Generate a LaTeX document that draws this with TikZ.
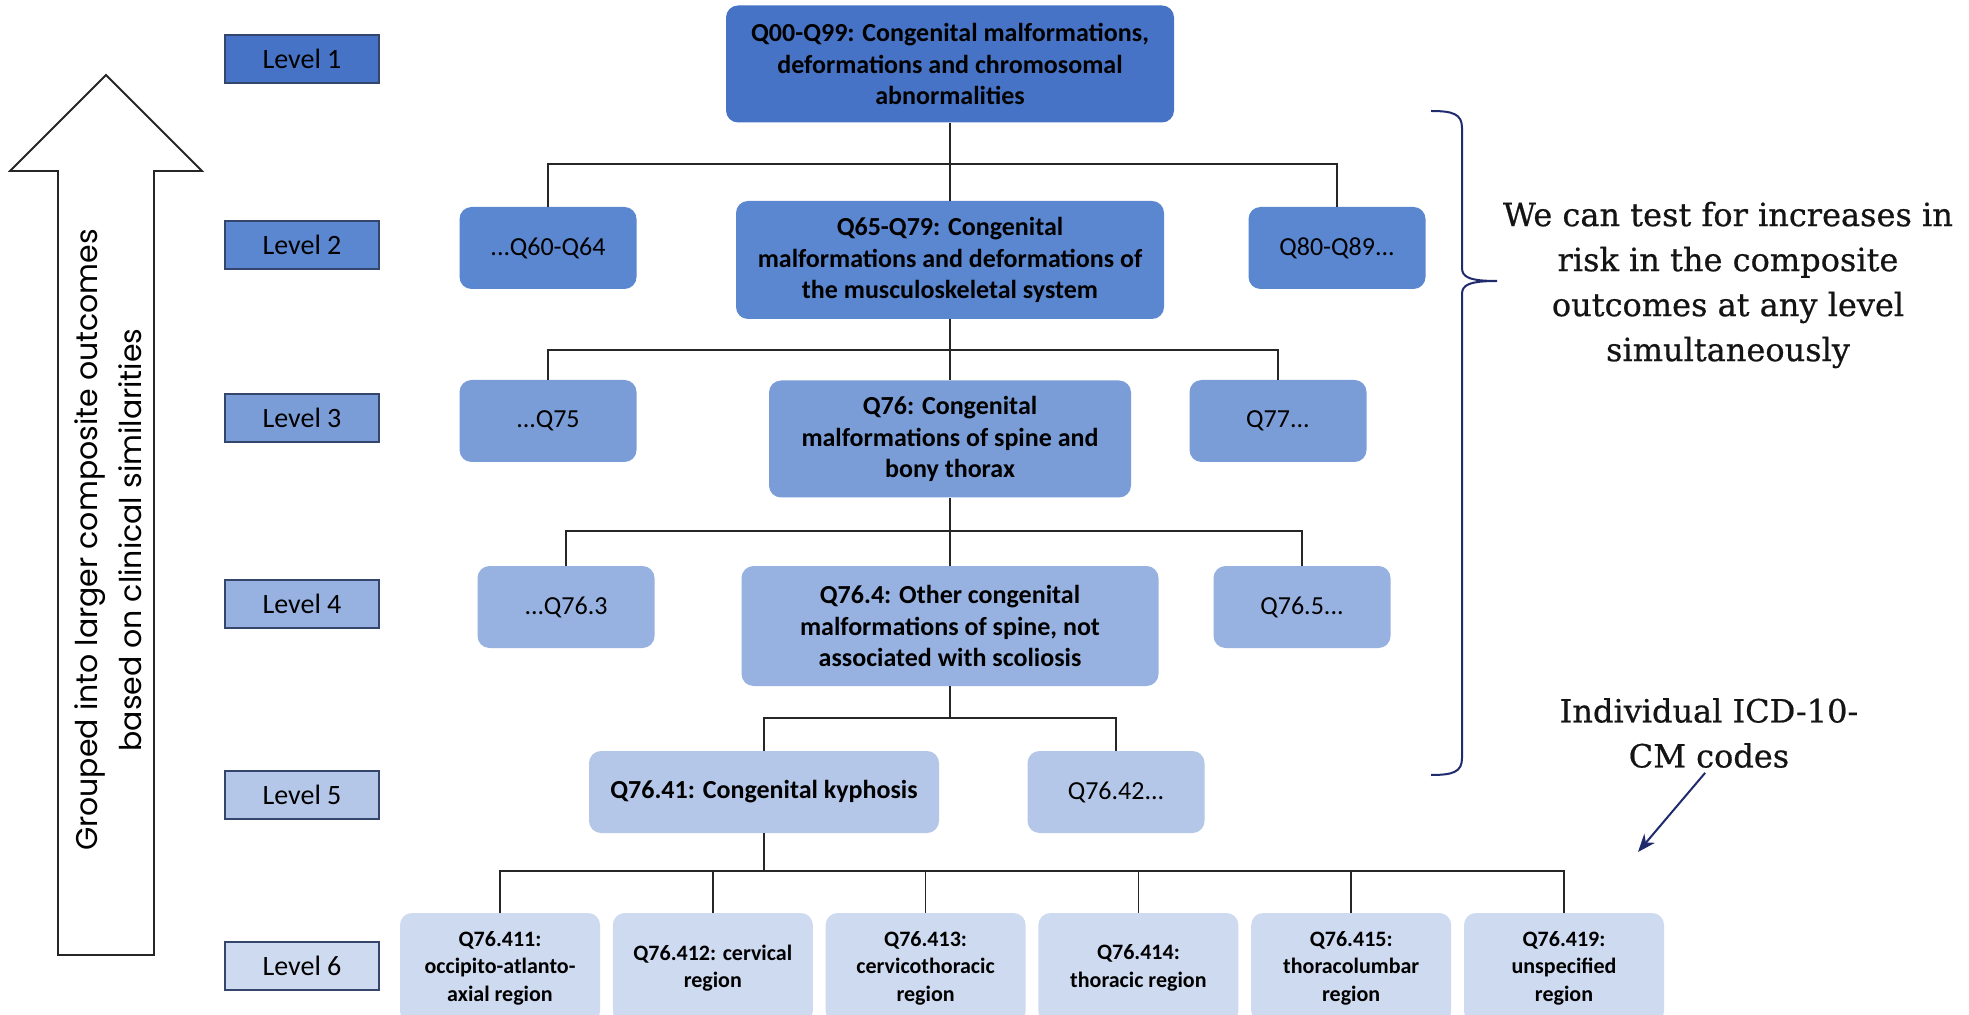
\documentclass[tikz,border=0pt]{standalone}
\usepackage{fontspec}
\setmainfont{Carlito}
\newfontfamily\notefont{DejaVu Serif}[FakeBold=0.6]
\newfontfamily\arrowfont{Poppins}
\usepackage{tikz}
\usetikzlibrary{arrows.meta}

\definecolor{lvA}{HTML}{4673C5}
\definecolor{lvB}{HTML}{5B86D0}
\definecolor{lvC}{HTML}{7A9DD8}
\definecolor{lvD}{HTML}{97B2E1}
\definecolor{lvE}{HTML}{B4C7E8}
\definecolor{lvF}{HTML}{CEDAF0}
\definecolor{levelline}{HTML}{34466B}
\definecolor{navy}{HTML}{1F2B6C}

\tikzset{
  treebox/.style={rounded corners=6pt, align=center, inner sep=3pt, font=\fontsize{13}{15.6}\selectfont},
  boldbox/.style={treebox, font=\bfseries\fontsize{13}{15.6}\selectfont},
  smallbox/.style={treebox, minimum width=88.5pt, minimum height=41pt},
  leafbox/.style={treebox, font=\bfseries\fontsize{11}{13.8}\selectfont, minimum width=100pt, minimum height=55pt},
  levelbox/.style={draw=levelline, line width=0.75pt, minimum width=77pt, minimum height=24pt, inner sep=0pt, font=\fontsize{14}{16}\selectfont},
  treeline/.style={line width=0.8pt, black!85},
  notetext/.style={align=center, inner sep=0pt, text=black!92, font=\notefont\fontsize{16}{22.5}\selectfont},
  pointer/.style={-{Stealth[length=9pt,width=7pt]}, line width=1pt, navy},
  bracket/.style={line width=1pt, navy},
}

\begin{document}
\begin{tikzpicture}[x=0.5pt,y=0.5pt,yscale=-1]
        % Frame
        \clip (0,0) rectangle (1969,1015);
        \fill[white] (0,0) rectangle (1969,1015);

        % Level labels
        \foreach \y/\c/\n in {59/lvA/1,245/lvB/2,418/lvC/3,604/lvD/4,795/lvE/5,966/lvF/6}
            \draw (302,\y) node (level\n) [levelbox, fill=\c] {Level \n};

        % Level 1
        \draw (950,64) node (q00) [boldbox, fill=lvA, minimum width=224pt, minimum height=58.5pt] {Q00-Q99: Congenital malformations,\\deformations and chromosomal\\abnormalities};

        % Level 2
        \draw (548,248) node (q60) [smallbox, fill=lvB] {...Q60-Q64};
        \draw (950,260) node (q65) [boldbox, fill=lvB, minimum width=214pt, minimum height=59pt] {Q65-Q79: Congenital\\malformations and deformations of\\the musculoskeletal system};
        \draw (1337,248) node (q80) [smallbox, fill=lvB] {Q80-Q89...};

        % Level 3
        \draw (548,421) node (q75) [smallbox, fill=lvC] {...Q75};
        \draw (950,439) node (q76) [boldbox, fill=lvC, minimum width=181pt, minimum height=58.5pt] {Q76: Congenital\\malformations of spine and\\bony thorax};
        \draw (1278,421) node (q77) [smallbox, fill=lvC] {Q77...};

        % Level 4
        \draw (566,607) node (q763) [smallbox, fill=lvD] {...Q76.3};
        \draw (950,626) node (q764) [boldbox, fill=lvD, minimum width=208.5pt, minimum height=60pt] {Q76.4: Other congenital\\malformations of spine, not\\associated with scoliosis};
        \draw (1302,607) node (q765) [smallbox, fill=lvD] {Q76.5...};

        % Level 5
        \draw (764,792) node (q7641) [boldbox, fill=lvE, minimum width=175pt, minimum height=41pt] {Q76.41: Congenital kyphosis};
        \draw (1116,792) node (q7642) [smallbox, fill=lvE] {Q76.42...};

        % Level 6
        \foreach \i/\t in {0/{Q76.411:\\occipito-atlanto-\\axial region},
                           1/{Q76.412: cervical\\region},
                           2/{Q76.413:\\cervicothoracic\\region},
                           3/{Q76.414:\\thoracic region},
                           4/{Q76.415:\\thoracolumbar\\region},
                           5/{Q76.419:\\unspecified\\region}}
            \draw ({500+212.8*\i},968) node (leaf\i) [leafbox, fill=lvF] {\t};

        % Straight Lines
        \coordinate (bus1) at (950,164);
        \draw[treeline] (q00.south) -- (bus1) -- (q65.north);
        \draw[treeline] (q60.north) |- (bus1) -| (q80.north);
        \coordinate (bus2) at (950,350);
        \draw[treeline] (q65.south) -- (bus2) -- (q76.north);
        \draw[treeline] (q75.north) |- (bus2) -| (q77.north);
        \coordinate (bus3) at (950,531);
        \draw[treeline] (q76.south) -- (bus3) -- (q764.north);
        \draw[treeline] (q763.north) |- (bus3) -| (q765.north);
        \coordinate (bus4) at (950,718);
        \draw[treeline] (q764.south) -- (bus4);
        \draw[treeline] (q7641.north) |- (bus4) -| (q7642.north);
        \coordinate (bus5) at (764,871);
        \draw[treeline] (q7641.south) -- (bus5);
        \draw[treeline] (leaf0.north) |- (bus5) -| (leaf5.north);
        \foreach \i in {1,...,4}
            \draw[treeline] (leaf\i.north) -- (leaf\i.north |- bus5);

        % Block Arrow
        \draw[line width=0.9pt, black!85] (58,955) -- (58,171) -- (10,171) -- (106,75) -- (202,171) -- (154,171) -- (154,955) -- cycle;
        \draw (108,540) node (grouped) [rotate=90, align=center, font=\arrowfont\fontsize{15}{22}\selectfont] {Grouped into larger composite outcomes\\based on clinical similarities};

        % Brace
        \draw[bracket] (1431,111) .. controls (1453,111) and (1462,114) .. (1462,128) -- (1462,268) .. controls (1462,277) and (1469,281) .. (1497,281) .. controls (1469,281) and (1462,285) .. (1462,294) -- (1462,758) .. controls (1462,772) and (1453,775) .. (1431,775);

        % Text Node
        \draw (1728,285) node (note) [notetext] {We can test for increases in\\risk in the composite\\outcomes at any level\\simultaneously};
        % Text Node
        \draw (1709,733) node (icd) [notetext] {Individual ICD-10-\\CM codes};
        \coordinate (icdtip) at (1638,852);
        \draw[pointer, shorten <=3pt] (icd.south) -- (icdtip);
\end{tikzpicture}
\end{document}
